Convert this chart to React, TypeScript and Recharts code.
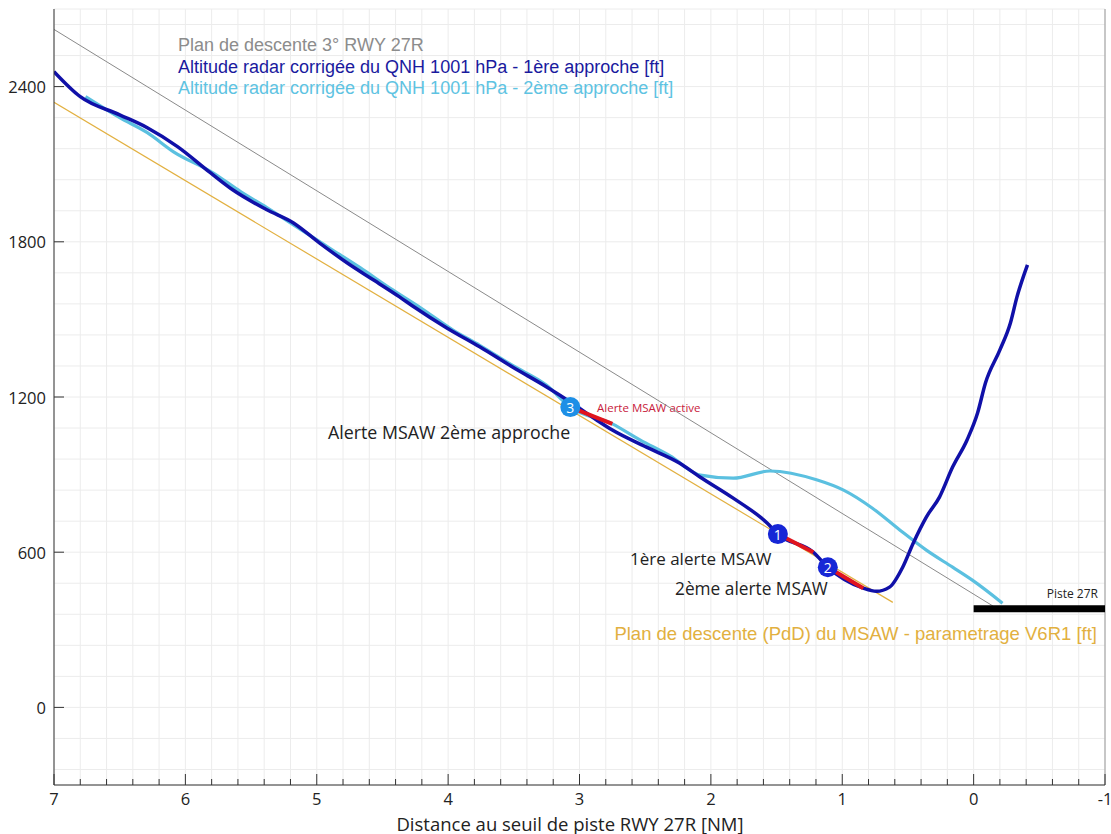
import React from 'react'
import {
  ComposedChart,
  Line,
  Scatter,
  XAxis,
  YAxis,
  CartesianGrid,
  ReferenceLine,
  Customized
} from 'recharts'

// distance au seuil [NM], altitude [ft]
const glide3deg: [number, number][] = [[7, 2621], [-0.15, 391]]
const msawGlide: [number, number][] = [[7, 2339], [0.615, 406]]
const runway: [number, number][] = [[0, 381], [-1, 381]]

const approach1: [number, number][] = [
  [7.0, 2458], [6.8, 2361], [6.5, 2291], [6.29, 2241], [6.06, 2168], [5.81, 2067],
  [5.64, 2001], [5.38, 1924], [5.18, 1874], [4.98, 1796], [4.77, 1719], [4.57, 1653],
  [4.37, 1587], [4.27, 1552], [4.01, 1467], [3.76, 1394], [3.51, 1316], [3.25, 1239],
  [3.07, 1181], [2.87, 1111], [2.75, 1072], [2.49, 1006], [2.24, 945], [2.08, 890],
  [1.83, 809], [1.57, 712], [1.49, 670], [1.22, 600], [1.11, 542], [0.84, 461],
  [0.74, 449], [0.64, 465], [0.54, 542], [0.46, 635], [0.36, 736], [0.26, 813],
  [0.16, 929], [0.05, 1034], [-0.03, 1138], [-0.09, 1254], [-0.2, 1382], [-0.28, 1486],
  [-0.33, 1587], [-0.41, 1711]
]

const approach2: [number, number][] = [
  [6.76, 2361], [6.5, 2280], [6.29, 2222], [6.09, 2148], [5.79, 2067], [5.58, 1994],
  [5.38, 1932], [5.13, 1850], [4.9, 1775], [4.67, 1700], [4.44, 1620], [4.21, 1545],
  [3.96, 1458], [3.76, 1400], [3.51, 1322], [3.25, 1245], [3.07, 1161], [2.75, 1096],
  [2.54, 1034], [2.31, 972], [2.08, 898], [1.83, 886], [1.55, 914], [1.19, 879],
  [0.99, 840], [0.77, 770], [0.56, 685], [0.36, 608], [0.16, 542], [0.01, 492],
  [-0.22, 403]
]

// alertes MSAW : [début, fin] en NM
const alerts1: [number, number][] = [[1.49, 1.22], [1.11, 0.84]]
const alerts2: [number, number][] = [[3.07, 2.75]]

const markerLabels = ['1', '2', '3']
const markerX = [1.49, 1.11, 3.07]
const markerY = [670, 542, 1161]
const markerColors = ['#1626d6', '#1626d6', '#1d8fe6']

const xMajor = [7, 6, 5, 4, 3, 2, 1, 0, -1]
const yLabels = [0, 600, 1200, 1800, 2400]
const yStep = 120

const toPts = (arr: [number, number][]) => arr.map(([x, y]) => ({ x, y }))
const slice = (arr: [number, number][], [a, b]: [number, number]) =>
  toPts(arr.filter(([x]) => x <= a + 1e-9 && x >= b - 1e-9))

const xTicks: number[] = []
for (let i = -5; i <= 35; i++) xTicks.push(Math.round(i * 20) / 100)
const yTicks: number[] = []
for (let v = -240; v <= 2640; v += yStep) yTicks.push(v)

const markers = markerLabels.map((n, i) => ({ x: markerX[i], y: markerY[i], n, color: markerColors[i] }))

const isMajor = (v: number) => xMajor.some((m) => Math.abs(m - v) < 1e-6)
const sans = '"Open Sans", sans-serif'
const arial = '"Liberation Sans", Arial, sans-serif'

const BottomTick = (props: any) => {
  const { x, y, payload } = props
  const major = isMajor(payload.value)
  return (
    <g>
      <line x1={x} x2={x} y1={y} y2={y - (major ? 11 : 6)} stroke="#333" />
      {major && (
        <text x={x} y={y + 20} textAnchor="middle" fontFamily={sans} fontSize={16.5} fill="#222">
          {Math.round(payload.value)}
        </text>
      )}
    </g>
  )
}

const TopTick = (props: any) => {
  const { x, y, payload } = props
  const major = isMajor(payload.value)
  return <line x1={x} x2={x} y1={y} y2={y + (major ? 11 : 6)} stroke="#333" />
}

const LeftTick = (props: any) => {
  const { x, y, payload } = props
  if (!yLabels.includes(payload.value)) return <g />
  return (
    <g>
      <line x1={x} x2={x + 10} y1={y} y2={y} stroke="#333" />
      <text x={x - 8} y={y} textAnchor="end" dominantBaseline="central" fontFamily={sans} fontSize={16.5} fill="#222">
        {payload.value}
      </text>
    </g>
  )
}

const MarkerShape = (props: any) => {
  const { cx, cy, payload } = props
  return (
    <g>
      <circle cx={cx} cy={cy} r={10} fill={payload.color} />
      <text x={cx} y={cy} textAnchor="middle" dominantBaseline="central" fontFamily={sans} fontSize={14} fill="#fff">
        {payload.n}
      </text>
    </g>
  )
}

const Annotations = () => (
  <g>
    <text x={178} y={45} dominantBaseline="central" fontFamily={arial} fontSize={18} fill="#8c8c8c">
      Plan de descente 3° RWY 27R
    </text>
    <text x={178} y={67} dominantBaseline="central" fontFamily={arial} fontSize={18} fill="#1a1a9e">
      Altitude radar corrigée du QNH 1001 hPa - 1ère approche [ft]
    </text>
    <text x={178} y={88} dominantBaseline="central" fontFamily={arial} fontSize={18} fill="#5ec3e2">
      Altitude radar corrigée du QNH 1001 hPa - 2ème approche [ft]
    </text>
    <text x={328} y={432} dominantBaseline="central" fontFamily={sans} fontSize={17.8} fill="#222">
      Alerte MSAW 2ème approche
    </text>
    <text x={597} y={407} dominantBaseline="central" fontFamily={sans} fontSize={11.5} fill="#c8203c">
      Alerte MSAW active
    </text>
    <text x={630} y={558} dominantBaseline="central" fontFamily={sans} fontSize={17} fill="#222">
      1ère alerte MSAW
    </text>
    <text x={675} y={588} dominantBaseline="central" fontFamily={sans} fontSize={17.3} fill="#222">
      2ème alerte MSAW
    </text>
    <text x={1098} y={593} textAnchor="end" dominantBaseline="central" fontFamily={sans} fontSize={12} fill="#222">
      Piste 27R
    </text>
    <text x={1097} y={633} textAnchor="end" dominantBaseline="central" fontFamily={arial} fontSize={18.5} fill="#e2b040">
      Plan de descente (PdD) du MSAW - parametrage V6R1 [ft]
    </text>
    <text x={570} y={823} textAnchor="middle" dominantBaseline="central" fontFamily={sans} fontSize={18.5} fill="#222">
      Distance au seuil de piste RWY 27R [NM]
    </text>
  </g>
)

export default function App() {
  return (
    <div style={{ position: 'absolute', left: 0, top: 0, background: '#fff' }}>
      <ComposedChart width={1111} height={834} margin={{ top: 9, right: 6, bottom: 0, left: 0 }}>
        <CartesianGrid stroke="#ececec" />
        <XAxis
          dataKey="x"
          type="number"
          domain={[-1, 7]}
          reversed
          ticks={xTicks}
          interval={0}
          height={49}
          tickSize={0}
          tickMargin={0}
          tick={<BottomTick />}
          stroke="#333"
          allowDataOverflow
        />
        <XAxis
          xAxisId="top"
          orientation="top"
          type="number"
          domain={[-1, 7]}
          reversed
          ticks={xTicks}
          interval={0}
          height={0}
          tickSize={0}
          tickMargin={0}
          tick={<TopTick />}
          stroke="#999"
          allowDataOverflow
        />
        <YAxis
          type="number"
          domain={[-300, 2700]}
          ticks={yTicks}
          interval={0}
          width={54}
          tickSize={0}
          tickMargin={0}
          tick={<LeftTick />}
          stroke="#333"
          allowDataOverflow
        />
        <ReferenceLine x={-1} stroke="#999" />
        <Line data={toPts(glide3deg)} dataKey="y" stroke="#8a8a8a" strokeWidth={1} dot={false} activeDot={false} isAnimationActive={false} />
        <Line data={toPts(msawGlide)} dataKey="y" stroke="#e2b040" strokeWidth={1.2} dot={false} activeDot={false} isAnimationActive={false} />
        <Line data={toPts(approach2)} dataKey="y" type="monotone" stroke="#5bc0e0" strokeWidth={3.2} dot={false} activeDot={false} isAnimationActive={false} />
        <Line data={toPts(approach1)} dataKey="y" type="monotone" stroke="#1010a8" strokeWidth={3.5} dot={false} activeDot={false} isAnimationActive={false} />
        {alerts1.map((r, i) => (
          <Line key={'a1' + i} data={slice(approach1, r)} dataKey="y" type="monotone" stroke="#e0141e" strokeWidth={4} dot={false} activeDot={false} isAnimationActive={false} />
        ))}
        {alerts2.map((r, i) => (
          <Line key={'a2' + i} data={slice(approach2, r)} dataKey="y" type="monotone" stroke="#e0141e" strokeWidth={4} dot={false} activeDot={false} isAnimationActive={false} />
        ))}
        <Line data={toPts(runway)} dataKey="y" stroke="#000" strokeWidth={7} dot={false} activeDot={false} isAnimationActive={false} />
        <Scatter data={markers} dataKey="y" shape={<MarkerShape />} isAnimationActive={false} />
        <Customized component={<Annotations />} />
      </ComposedChart>
    </div>
  )
}
